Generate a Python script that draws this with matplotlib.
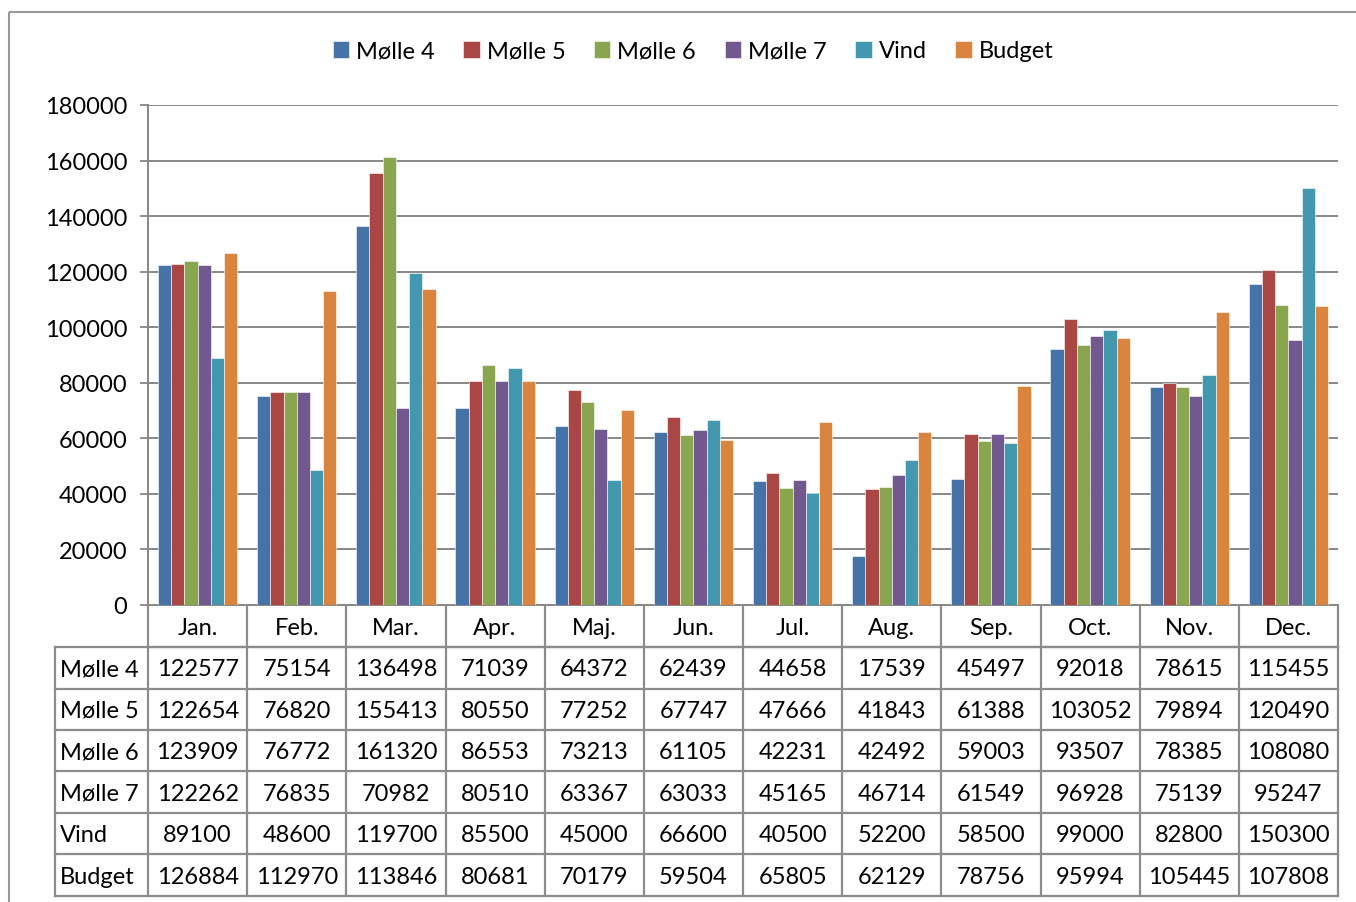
import matplotlib
matplotlib.use("Agg")
import matplotlib.pyplot as plt
from matplotlib.patches import Rectangle
import numpy as np

months = ["Jan.", "Feb.", "Mar.", "Apr.", "Maj.", "Jun.", "Jul.", "Aug.", "Sep.", "Oct.", "Nov.", "Dec."]
series_names = ["Mølle 4", "Mølle 5", "Mølle 6", "Mølle 7", "Vind", "Budget"]
molle4 = [122577, 75154, 136498, 71039, 64372, 62439, 44658, 17539, 45497, 92018, 78615, 115455]
molle5 = [122654, 76820, 155413, 80550, 77252, 67747, 47666, 41843, 61388, 103052, 79894, 120490]
molle6 = [123909, 76772, 161320, 86553, 73213, 61105, 42231, 42492, 59003, 93507, 78385, 108080]
molle7 = [122262, 76835, 70982, 80510, 63367, 63033, 45165, 46714, 61549, 96928, 75139, 95247]
vind = [89100, 48600, 119700, 85500, 45000, 66600, 40500, 52200, 58500, 99000, 82800, 150300]
budget = [126884, 112970, 113846, 80681, 70179, 59504, 65805, 62129, 78756, 95994, 105445, 107808]
yticks = [0, 20000, 40000, 60000, 80000, 100000, 120000, 140000, 160000, 180000]

series = [molle4, molle5, molle6, molle7, vind, budget]
colors = ["#4572A7", "#AA4643", "#89A54E", "#71588F", "#4198AF", "#DB843D"]

FONT = "Lato"
FS = 17
W, H = 1356, 903
fig = plt.figure(figsize=(W / 100, H / 100), dpi=100)

# plot area in pixels
L, R, T, B = 148, 1338, 106, 606
ax = fig.add_axes([L / W, 1 - B / H, (R - L) / W, (B - T) / H])
n = len(series)
group = 0.8
bw = group / n
x = np.arange(len(months))
for i, (s, c, name) in enumerate(zip(series, colors, series_names)):
    ax.bar(x - group / 2 + bw * (i + 0.5), s, width=bw, color=c, label=name,
           edgecolor="white", linewidth=0.4, zorder=3)
ax.set_xlim(-0.5, len(months) - 0.5)
ax.set_ylim(0, 180000)
ax.set_yticks(yticks)
ax.set_yticklabels([str(v) for v in yticks], fontsize=FS, fontfamily=FONT)
ax.tick_params(axis="y", length=6, width=1.3, color="#878787", pad=9)
ax.set_xticks([])
ax.grid(axis="y", color="#878787", linewidth=1.4, zorder=0)
for side in ["top", "right"]:
    ax.spines[side].set_visible(False)
for side in ["left", "bottom"]:
    ax.spines[side].set_color("#878787")
    ax.spines[side].set_linewidth(1.4)

fig.legend(loc="center", bbox_to_anchor=(693 / W, 1 - 52 / H), ncol=6,
           frameon=False, prop={"family": FONT, "size": FS},
           handlelength=0.7, handleheight=0.7, handletextpad=0.3, columnspacing=1.2)

# overlay for table and border
ov = fig.add_axes([0, 0, 1, 1], facecolor="none")
ov.set_xlim(0, W)
ov.set_ylim(H, 0)
ov.axis("off")
ov.add_patch(Rectangle((9, 13), W + 20, H + 20, fill=False, edgecolor="#9a9a9a", linewidth=1.5))

gc = "#8c8c8c"
lw = 1.6
colw = (R - L) / len(months)
hdr_top, hdr_bot = 607, 648
row_tops = [648, 689.5, 731, 772.5, 814, 855.5]
row_h = 41.5
tab_bot = row_tops[-1] + row_h
lab_left = 55

# header row
ov.plot([L, R], [hdr_bot, hdr_bot], color=gc, lw=lw)
for j in range(len(months) + 1):
    xx = L + j * colw
    ov.plot([xx, xx], [hdr_top, tab_bot], color=gc, lw=lw)
for j, m in enumerate(months):
    ov.text(L + (j + 0.5) * colw, (hdr_top + hdr_bot) / 2 + 1, m, ha="center", va="center",
            fontsize=FS, fontfamily=FONT)
# data rows
ov.plot([lab_left, lab_left], [row_tops[0], tab_bot], color=gc, lw=lw)
for k, top in enumerate(row_tops + [tab_bot]):
    ov.plot([lab_left, R], [top, top], color=gc, lw=lw)
for k, (name, s) in enumerate(zip(series_names, series)):
    yc = row_tops[k] + row_h / 2 + 1
    ov.text(lab_left + 5, yc, name, ha="left", va="center", fontsize=FS, fontfamily=FONT)
    for j, v in enumerate(s):
        ov.text(L + (j + 0.5) * colw, yc, str(v), ha="center", va="center",
                fontsize=FS, fontfamily=FONT)

fig.savefig("out.png", dpi=100, facecolor="white")
